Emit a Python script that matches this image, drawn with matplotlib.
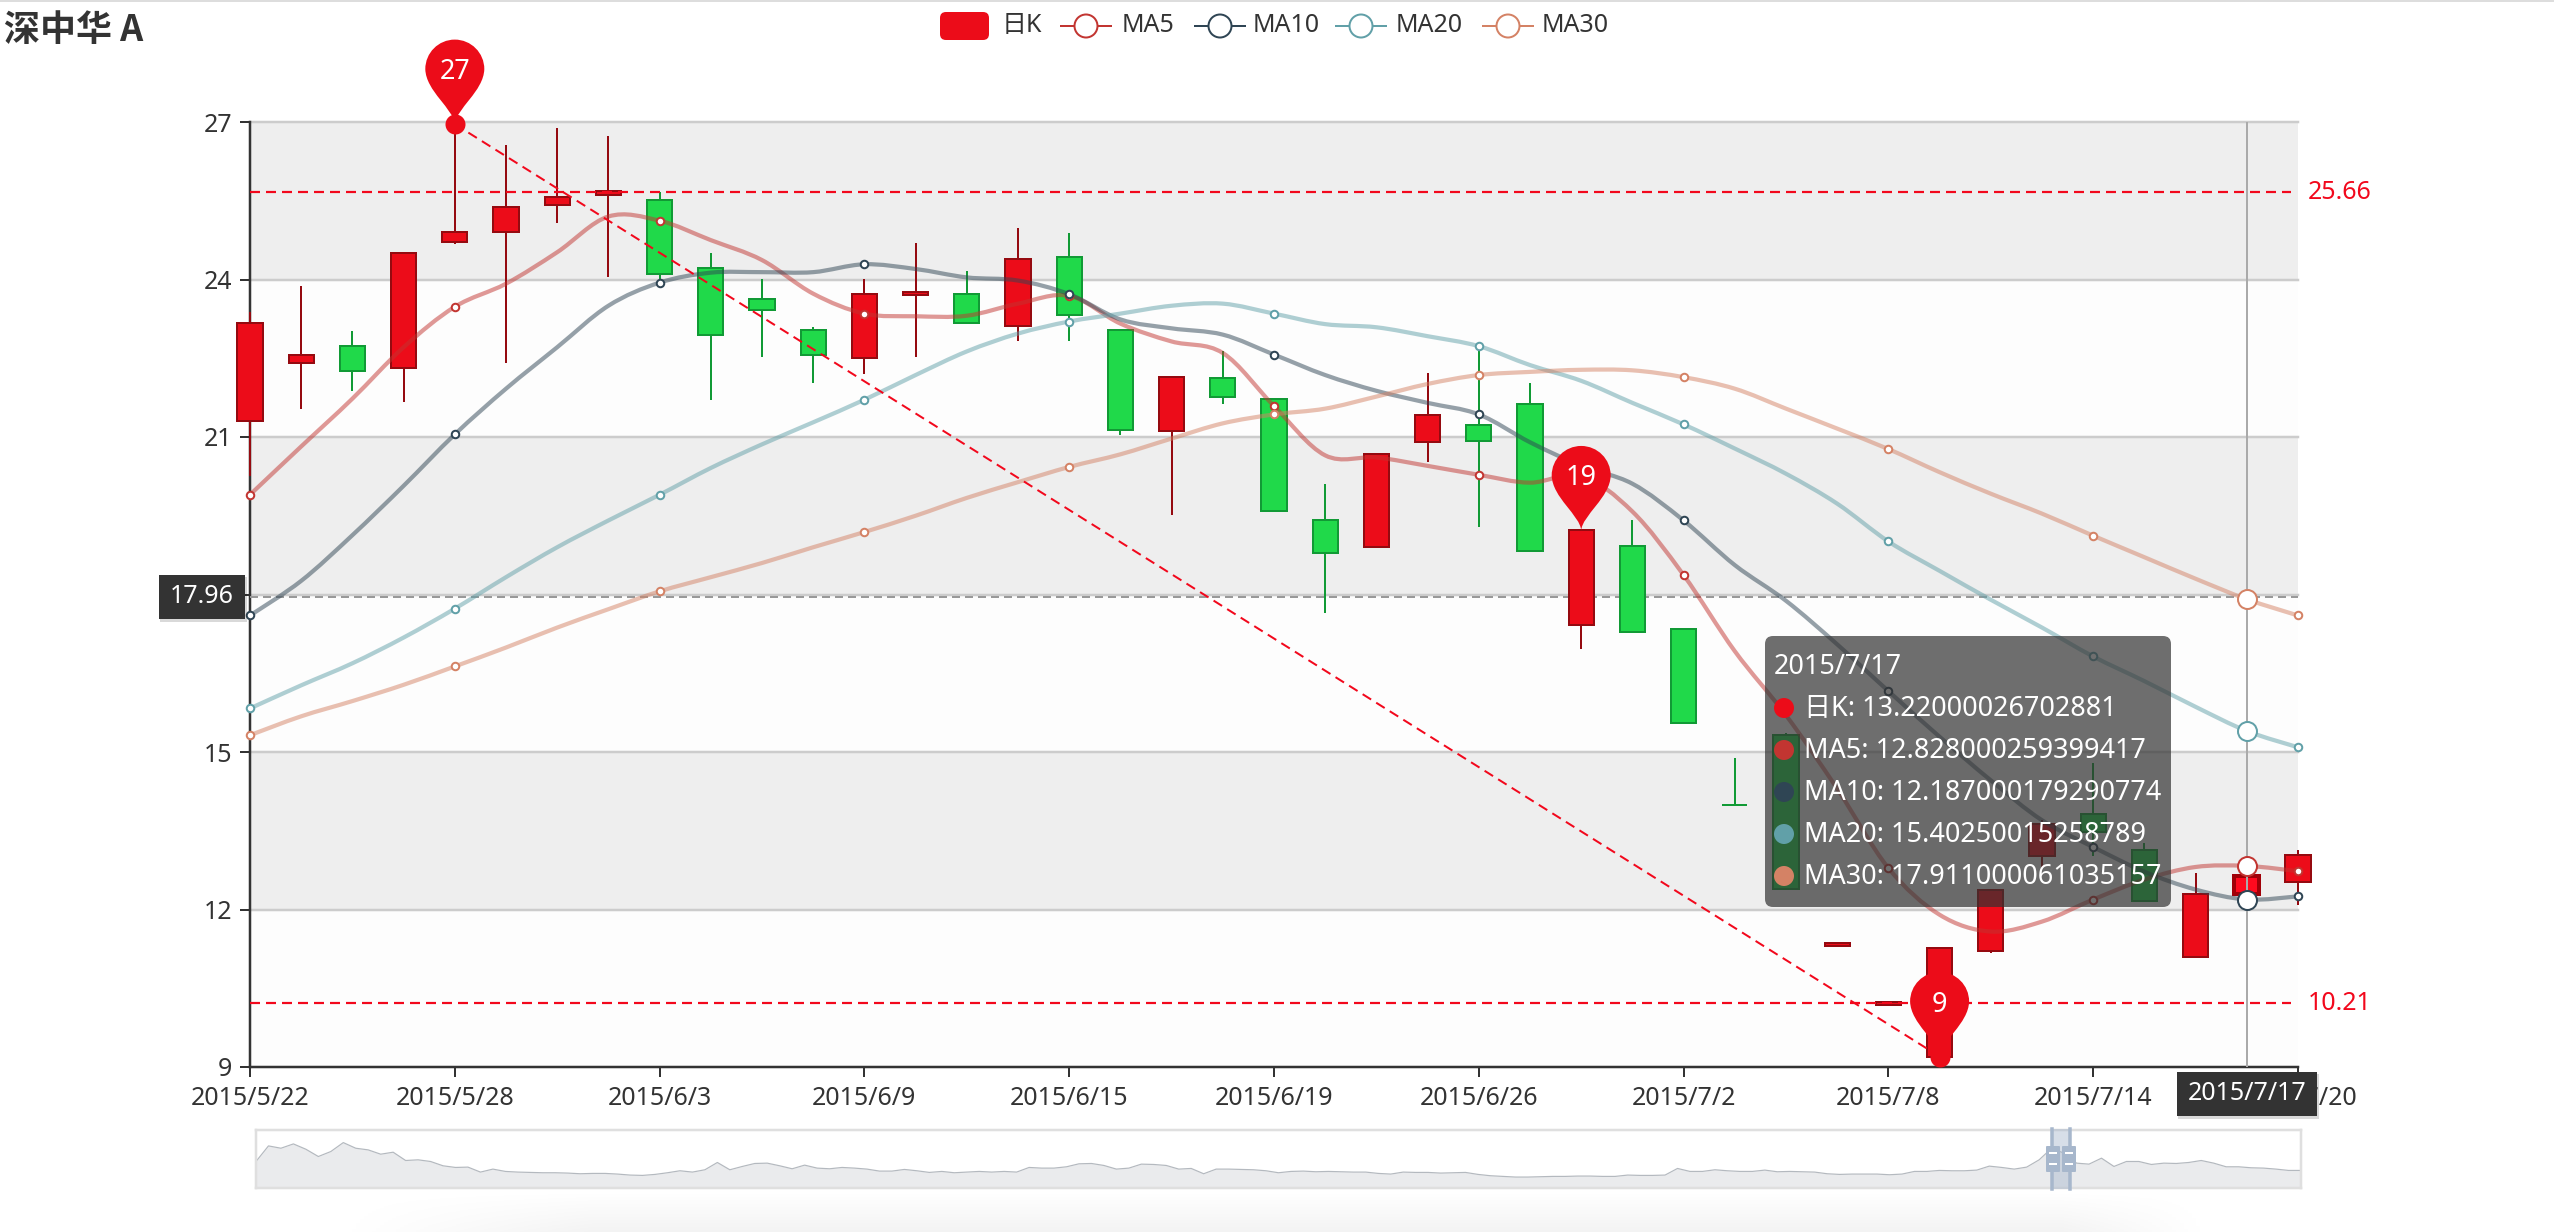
import numpy as np
import matplotlib
matplotlib.use('Agg')
import matplotlib.pyplot as plt
from matplotlib.path import Path
from matplotlib.patches import PathPatch, Rectangle, FancyBboxPatch, Circle

plt.rcParams['font.family'] = ['Noto Sans', 'Noto Sans CJK SC']
plt.rcParams['lines.scale_dashes'] = False

W, H = 2554, 1232
PX = 0.72  # one pixel in points at dpi 100

dates = ['2015/5/22', '2015/5/25', '2015/5/26', '2015/5/27', '2015/5/28', '2015/5/29',
         '2015/6/1', '2015/6/2', '2015/6/3', '2015/6/4', '2015/6/5', '2015/6/8', '2015/6/9',
         '2015/6/10', '2015/6/11', '2015/6/12', '2015/6/15', '2015/6/16', '2015/6/17',
         '2015/6/18', '2015/6/19', '2015/6/23', '2015/6/24', '2015/6/25', '2015/6/26',
         '2015/6/29', '2015/6/30', '2015/7/1', '2015/7/2', '2015/7/3', '2015/7/6', '2015/7/7',
         '2015/7/8', '2015/7/9', '2015/7/10', '2015/7/13', '2015/7/14', '2015/7/15',
         '2015/7/16', '2015/7/17', '2015/7/20']

# candle values, red when close > open
opens = [21.31, 22.41, 22.73, 22.31, 24.71, 24.91, 25.41, 25.61, 25.52, 24.22, 23.63, 23.03, 22.51, 23.70,
         23.72, 23.11, 24.43, 23.03, 21.11, 22.12, 21.72, 19.42, 18.91, 20.91, 21.22, 21.62, 17.41, 18.92,
         17.34, 14.00, 15.33, 11.30, 10.19, 9.20, 11.21, 13.01, 13.82, 13.13, 11.10, 12.29, 12.52]
closes = [23.18, 22.56, 22.26, 24.50, 24.90, 25.38, 25.57, 25.68, 24.10, 22.95, 23.42, 22.57, 23.73, 23.77,
          23.17, 24.39, 23.33, 21.14, 22.14, 21.76, 19.59, 18.79, 20.68, 21.42, 20.92, 18.83, 19.22, 17.29,
          15.56, 14.00, 12.39, 11.37, 10.23, 11.26, 12.38, 13.62, 13.47, 12.16, 12.29, 12.64, 13.03]
lows = [20.26, 21.54, 21.88, 21.67, 24.67, 22.41, 25.08, 24.04, 23.95, 21.71, 22.52, 22.03, 22.20, 22.52,
        23.15, 22.82, 22.82, 21.03, 19.52, 21.63, 19.59, 17.64, 18.91, 20.52, 19.29, 18.83, 16.96, 17.29,
        15.56, 14.00, 12.39, 11.30, 10.19, 9.20, 11.18, 12.80, 13.01, 12.16, 11.07, 12.29, 12.08]
highs = [23.39, 23.88, 23.01, 24.50, 26.96, 26.57, 26.89, 26.73, 25.67, 24.50, 24.01, 23.09, 24.01, 24.69,
         24.17, 24.99, 24.88, 23.03, 22.14, 22.63, 21.72, 20.11, 20.68, 22.22, 22.65, 22.03, 19.22, 19.41,
         17.34, 14.89, 15.37, 11.37, 10.23, 11.26, 12.38, 13.70, 14.80, 13.27, 12.70, 13.22, 13.13]

ma5 = [19.90, 20.82, 21.73, 22.71, 23.48, 23.92, 24.52, 25.20, 25.12, 24.75, 24.37, 23.73, 23.35, 23.30,
       23.31, 23.54, 23.69, 23.16, 22.82, 22.60, 21.59, 20.65, 20.61, 20.45, 20.28, 20.13, 20.26, 19.58,
       18.37, 16.92, 15.70, 14.30, 12.79, 11.90, 11.58, 11.77, 12.19, 12.57, 12.81, 12.83, 12.73]
ma10 = [17.60, 18.26, 19.13, 20.07, 21.05, 21.92, 22.71, 23.50, 23.94, 24.13, 24.14, 24.14, 24.29, 24.20,
        24.04, 23.98, 23.72, 23.24, 23.07, 22.95, 22.57, 22.18, 21.88, 21.65, 21.43, 20.90, 20.45, 20.11,
        19.41, 18.56, 17.88, 17.05, 16.16, 15.29, 14.46, 13.70, 13.19, 12.72, 12.38, 12.19, 12.25]
ma20 = [15.83, 16.27, 16.69, 17.18, 17.73, 18.33, 18.90, 19.41, 19.90, 20.41, 20.86, 21.28, 21.71, 22.18,
        22.63, 22.97, 23.20, 23.35, 23.50, 23.54, 23.35, 23.15, 23.09, 22.92, 22.73, 22.37, 22.07, 21.65,
        21.24, 20.78, 20.30, 19.73, 19.01, 18.45, 17.90, 17.37, 16.82, 16.35, 15.86, 15.40, 15.09]
ma30 = [15.32, 15.68, 15.97, 16.28, 16.63, 16.99, 17.37, 17.72, 18.06, 18.33, 18.60, 18.90, 19.19, 19.50,
        19.84, 20.14, 20.43, 20.67, 20.97, 21.26, 21.43, 21.54, 21.77, 22.01, 22.18, 22.24, 22.28, 22.27,
        22.14, 21.92, 21.54, 21.16, 20.77, 20.33, 19.92, 19.54, 19.12, 18.71, 18.30, 17.91, 17.60]

ma_names = ['MA5', 'MA10', 'MA20', 'MA30']
ma_series = [ma5, ma10, ma20, ma30]
ma_colors = ['#c23531', '#2f4554', '#61a0a8', '#d48265']

yticks = [9, 12, 15, 18, 21, 24, 27]
ytick_labels = ['9', '12', '15', '', '21', '24', '27']  # 18 sits under the pointer label
xticks = list(range(0, 41, 4))
mark_levels = [25.66, 10.21]
mark_high = (4, 26.96)
mark_low = (33, 9.2)
mark_mid = (26, 19.22)
cursor_idx = 39
cursor_val = 17.96
tooltip_rows = [('日K', '13.22000026702881', '#ec0c19'),
                ('MA5', '12.828000259399417', '#c23531'),
                ('MA10', '12.187000179290774', '#2f4554'),
                ('MA20', '15.40250015258789', '#61a0a8'),
                ('MA30', '17.911000061035157', '#d48265')]

# overview strip under the chart, height of the line above the strip floor
overview_y = [125, 78, 85, 72, 88, 110, 95, 68, 85, 90, 103, 97, 122, 120, 125, 138, 143, 142, 157, 148,
              155, 157, 158, 159, 159, 160, 162, 161, 161, 163, 166, 167, 164, 159, 153, 157, 150, 128, 150,
              140, 131, 130, 138, 147, 136, 145, 147, 143, 145, 148, 154, 154, 149, 153, 158, 155,
              159, 157, 155, 157, 155, 157, 143, 145, 145, 141, 132, 131, 137, 148, 145, 133, 134, 137,
              148, 146, 162, 148, 148, 149, 150, 153, 159, 155, 154, 156, 155, 156, 157, 157, 161, 163,
              157, 158, 158, 160, 159, 158, 164, 168, 170, 172, 172, 171, 170, 170, 169, 169, 170, 170,
              166, 167, 167, 166, 146, 155, 155, 150, 153, 155, 155, 151, 156, 155, 156, 157, 162, 164,
              163, 163, 163, 165, 163, 155, 155, 152, 153, 153, 151, 139, 143, 148, 142, 120, 85, 100,
              130, 133, 115, 140, 125, 125, 134, 130, 131, 128, 122, 130, 141, 141, 144, 145, 148, 152, 152]
overview = [205 - v for v in overview_y]

RED = '#ec0c19'
RED_EDGE = '#950a10'
GREEN = '#20d94a'
GREEN_EDGE = '#119a35'
DARK = '#333333'
MARK = '#f2081c'

fig = plt.figure(figsize=(W / 100, H / 100), dpi=100, facecolor='white')


def frame(x0, y0, x1, y1):
    return [x0 / W, 1 - y1 / H, (x1 - x0) / W, (y1 - y0) / H]


ax = fig.add_axes(frame(250, 122, 2298, 1067))
ax.set_xlim(0, 40)
ax.set_ylim(9, 27)

# split areas and lines
for i in range(len(yticks) - 1):
    shade = '#eeeeee' if i % 2 == 1 else '#fdfdfd'
    ax.axhspan(yticks[i], yticks[i + 1], color=shade, lw=0, zorder=0)
for v in yticks[1:]:
    ax.axhline(v, color='#cccccc', lw=2.5 * PX, zorder=1, clip_on=False)

for s in ['top', 'right']:
    ax.spines[s].set_visible(False)
for s in ['left', 'bottom']:
    ax.spines[s].set_color(DARK)
    ax.spines[s].set_linewidth(2.5 * PX)
    ax.spines[s].set_zorder(1.5)

ax.set_xticks(xticks)
ax.set_xticklabels([dates[i] for i in xticks])
ax.set_yticks(yticks)
ax.set_yticklabels(ytick_labels)
ax.tick_params(axis='both', length=10 * PX, width=2 * PX, color=DARK, labelcolor=DARK, labelsize=25 * PX)
ax.tick_params(axis='x', pad=9 * PX)
ax.tick_params(axis='y', pad=8 * PX)

# candles
x = np.arange(len(dates))
for i in x:
    up = closes[i] > opens[i]
    fill = RED if up else GREEN
    edge = RED_EDGE if up else GREEN_EDGE
    lw = 2 * PX
    if i == cursor_idx:
        fill, edge, lw = '#ff0a1e', '#a00008', 4 * PX
    ax.vlines(i, lows[i], highs[i], color=edge, lw=2 * PX, zorder=3, clip_on=False)
    ax.bar(i, abs(closes[i] - opens[i]), bottom=min(opens[i], closes[i]), width=0.49, color=fill, edgecolor=edge,
           linewidth=lw, zorder=3.1, clip_on=False)


# moving averages, bezier through the read values like the original smooth line
def smooth(xs, ys):
    pts = np.column_stack([xs, ys])
    verts = [pts[0]]
    codes = [Path.MOVETO]
    for i in range(len(pts) - 1):
        prev_p = pts[max(i - 1, 0)]
        next_p = pts[min(i + 2, len(pts) - 1)]
        verts += [pts[i] + (pts[i + 1] - prev_p) / 6, pts[i + 1] - (next_p - pts[i]) / 6, pts[i + 1]]
        codes += [Path.CURVE4, Path.CURVE4, Path.CURVE4]
    return Path(verts, codes)


for vals, c in zip(ma_series, ma_colors):
    ax.add_patch(PathPatch(smooth(x, vals), fill=False, edgecolor=c, alpha=0.5, lw=4.2 * PX, zorder=4,
                           capstyle='round', clip_on=False))
    ax.plot(x[xticks], np.array(vals)[xticks], ls='none', marker='o', ms=7.5 * PX, mfc='white', mec=c,
            mew=2 * PX, zorder=5, clip_on=False)

# mark lines
dash = (0, (10 * PX, 6 * PX))
for v in mark_levels:
    ax.plot([0, 39.86], [v, v], color=MARK, lw=2.2 * PX, ls=dash, zorder=4.5)
ax.plot([mark_high[0], mark_low[0]], [mark_high[1], mark_low[1]], color=MARK, lw=2 * PX, ls=dash, zorder=4.5)
ax.plot([mark_high[0], mark_low[0]], [mark_high[1], mark_low[1]], ls='none', marker='o', ms=20 * PX, color=RED,
        mew=0, zorder=6, clip_on=False)

# crosshair
ax.axvline(cursor_idx, color='#aaaaaa', lw=2 * PX, zorder=5.5)
ax.axhline(cursor_val, color='#999999', lw=2 * PX, ls=(0, (8 * PX, 5 * PX)), zorder=2)
for vals, c in zip(ma_series, ma_colors):
    ax.plot([cursor_idx], [vals[cursor_idx]], ls='none', marker='o', ms=19 * PX, mfc='white', mec=c, mew=2 * PX,
            zorder=6, clip_on=False)

# overview strip
ax2 = fig.add_axes(frame(256, 1130, 2301, 1188))
ax2.set_xlim(0, len(overview) - 1)
ax2.set_ylim(0, 175)
ax2.set_xticks([])
ax2.set_yticks([])
ax2.fill_between(range(len(overview)), overview, 0, color='#eaebed', lw=0)
ax2.plot(range(len(overview)), overview, color='#b4b9bf', lw=1.2 * PX)
for s in ax2.spines.values():
    s.set_color('#dfdfdf')
    s.set_linewidth(2.5 * PX)

# pixel overlay for legend, pins, tooltip and pointer labels
ov = fig.add_axes([0, 0, 1, 1], facecolor='none')
ov.set_xlim(0, W)
ov.set_ylim(H, 0)
ov.axis('off')


def to_px(xv, yv):
    px, py = ax.transData.transform((xv, yv))
    return px, H - py


ov.add_patch(Rectangle((0, 0), W, 2, color='#dddddd', lw=0))

# faint page shadow at the bottom edge
gx, gy = np.meshgrid(np.arange(300, 2260, 4), np.arange(1190, H))
shade = np.clip((gy - 1190) / 42, 0, 1) * np.clip((gx - 330) / 260, 0, 1) * np.clip((2210 - gx) / 150, 0, 1)
rgba = np.zeros(gx.shape + (4,))
rgba[..., 3] = shade * 0.05
ov.imshow(rgba, extent=(300, 2260, H, 1190), aspect='auto', zorder=0)
ov.set_xlim(0, W)
ov.set_ylim(H, 0)

ov.text(4, 30, '深中华 A', fontsize=36 * PX, fontweight='bold', color=DARK, va='center', ha='left',
        family=['Noto Sans CJK SC'])

# legend
ov.add_patch(FancyBboxPatch((946, 18), 37, 16, boxstyle='round,pad=6,rounding_size=6', fc=RED, ec='none'))
ov.text(1002, 26, '日K', fontsize=25 * PX, color=DARK, va='center')
icon_x = [1086, 1220, 1361, 1508]
text_x = [1122, 1253, 1396, 1542]
for name, c, ix, tx in zip(ma_names, ma_colors, icon_x, text_x):
    ov.plot([ix - 25, ix + 25], [26, 26], color=c, lw=2 * PX)
    ov.add_patch(Circle((ix, 26), 11.5, fc='white', ec=c, lw=2 * PX, zorder=3))
    ov.text(tx, 26, name, fontsize=25 * PX, color=DARK, va='center')

# pins
pin_verts = [(0, 0), (-1, -15), (-29, -33), (-29.5, -55), (-29.5, -71.3), (-16.3, -84.5), (0, -84.5),
             (16.3, -84.5), (29.5, -71.3), (29.5, -55), (29, -33), (1, -15), (0, 0)]
pin_codes = [Path.MOVETO] + [Path.CURVE4] * 12
for (i, v) in [mark_high, mark_mid, mark_low]:
    px, py = to_px(i, v)
    ov.add_patch(PathPatch(Path(np.array(pin_verts) + (px, py), pin_codes), fc=RED, ec='none', zorder=4))
    ov.text(px, py - 52, '%d' % round(v), color='white', fontsize=27 * PX, ha='center', va='center', zorder=5)

# mark line labels
for v in mark_levels:
    ov.text(2308, to_px(0, v)[1], '%.2f' % v, color=MARK, fontsize=25 * PX, va='center', zorder=5)

# pointer labels
cx = to_px(cursor_idx, 9)[0]
cy = to_px(0, cursor_val)[1]
for (bx, by, bw, bh, txt, tx, ty) in [(159, cy - 22, 86, 44, '%.2f' % cursor_val, 202, cy),
                                     (cx - 70, 1072, 140, 44, dates[cursor_idx], cx, 1094)]:
    ov.add_patch(Rectangle((bx + 1, by + 2), bw + 1, bh + 1, fc='black', alpha=0.15, lw=0, zorder=5))
    ov.add_patch(Rectangle((bx, by), bw, bh, fc=DARK, lw=0, zorder=6))
    ov.text(tx, ty, txt, color='white', fontsize=25 * PX, ha='center', va='center', zorder=7)

# tooltip
ov.add_patch(FancyBboxPatch((1773, 644), 390, 255, boxstyle='round,pad=8,rounding_size=8', fc=(0.196, 0.196, 0.196, 0.7),
                            ec='none', zorder=8))
ov.text(1774, 667, dates[cursor_idx], color='white', fontsize=27 * PX, va='center', zorder=9)
row_y = [709, 751, 793, 835, 877]
for (name, val, c), ry in zip(tooltip_rows, row_y):
    ov.add_patch(Circle((1784, ry - 1), 10, fc=c, ec='none', zorder=9))
    ov.text(1804, ry, '%s: %s' % (name, val), color='white', fontsize=27 * PX, va='center', zorder=9)

# overview window and handles
ov.add_patch(Rectangle((2052, 1129), 18, 60, fc='#a7b7cc', alpha=0.45, lw=0, zorder=4))
for bx in [2052, 2070]:
    ov.plot([bx, bx], [1129, 1189], color='#a7b7cc', lw=3.5 * PX, zorder=5)
for bx in [2046, 2062]:
    ov.add_patch(FancyBboxPatch((bx + 1, 1147), 12, 24, boxstyle='round,pad=1,rounding_size=1', fc='#a7b7cc', ec='none', zorder=6))
    for gy_ in [1153, 1164]:
        ov.plot([bx + 4, bx + 10], [gy_, gy_], color='white', lw=2 * PX, zorder=7)

fig.savefig('out.png', dpi=100)
